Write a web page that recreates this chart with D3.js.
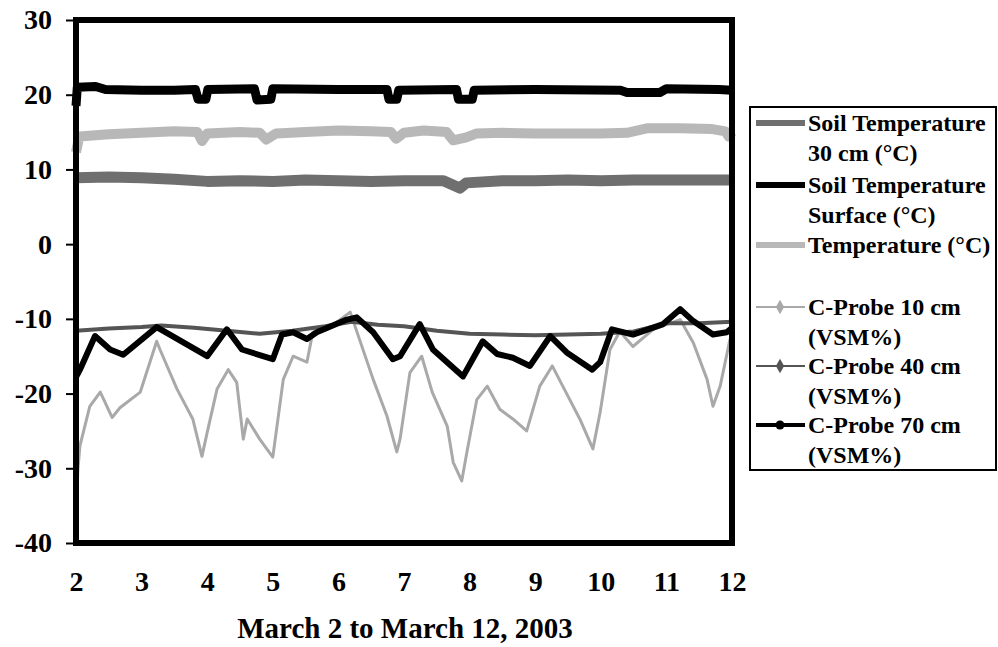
<!DOCTYPE html>
<html>
<head>
<meta charset="utf-8">
<script src="https://cdn.jsdelivr.net/npm/d3@7"></script>
<style>
  body { margin: 0; background: #fff; }
  text { font-family: "Liberation Serif", "Times New Roman", serif; font-weight: bold; fill: #000; }
</style>
</head>
<body>
<div id="chart"></div>
<script>
// day of March, value
const soil30 = [[2.0,8.9],[2.5,9.0],[3.0,8.9],[3.5,8.7],[4.0,8.4],[4.5,8.5],[5.0,8.4],[5.5,8.6],[6.0,8.5],[6.5,8.4],[7.0,8.5],[7.6,8.5],[7.85,7.5],[7.95,8.2],[8.5,8.5],[9.0,8.5],[9.5,8.6],[10.0,8.5],[10.5,8.6],[11.0,8.6],[11.5,8.6],[12.0,8.6]];
const soilSurface = [[2.0,18.5],[2.02,21.0],[2.3,21.1],[2.45,20.7],[3.0,20.6],[3.5,20.6],[3.82,20.7],[3.86,19.4],[3.98,19.4],[4.01,20.7],[4.72,20.8],[4.76,19.3],[4.97,19.4],[5.0,20.8],[6.0,20.7],[6.74,20.7],[6.77,19.4],[6.89,19.4],[6.92,20.6],[7.8,20.7],[7.83,19.4],[8.04,19.4],[8.07,20.6],[9.0,20.7],[10.3,20.6],[10.4,20.3],[10.9,20.3],[11.0,20.8],[11.8,20.7],[12.0,20.6]];
const airTemp = [[2.0,12.3],[2.05,14.4],[2.5,14.7],[3.0,14.9],[3.5,15.1],[3.85,15.0],[3.92,13.8],[4.0,14.8],[4.5,15.0],[4.8,14.9],[4.9,14.0],[5.05,14.8],[5.5,15.0],[6.0,15.2],[6.5,15.1],[6.8,15.0],[6.88,14.1],[7.0,14.9],[7.3,15.2],[7.65,15.0],[7.75,13.9],[7.95,14.3],[8.1,14.8],[8.5,14.9],[9.0,14.8],[9.5,14.8],[10.0,14.8],[10.4,14.9],[10.7,15.5],[11.2,15.5],[11.7,15.4],[11.9,15.1],[11.95,14.4],[12.0,15.0]];
const probe10 = [[2.0,-35.5],[2.03,-30.0],[2.06,-27.0],[2.21,-21.7],[2.37,-19.8],[2.55,-23.2],[2.67,-21.9],[2.98,-19.8],[3.23,-13.0],[3.28,-14.1],[3.54,-19.4],[3.78,-23.4],[3.92,-28.4],[4.0,-25.2],[4.15,-19.4],[4.32,-16.8],[4.45,-18.5],[4.55,-26.1],[4.61,-23.4],[4.8,-26.1],[5.0,-28.5],[5.16,-18.1],[5.31,-15.0],[5.52,-15.8],[5.61,-11.8],[5.83,-11.4],[6.18,-9.1],[6.53,-18.1],[6.74,-23.0],[6.89,-27.8],[6.94,-26.1],[7.09,-17.2],[7.27,-15.0],[7.43,-19.8],[7.66,-24.4],[7.75,-29.2],[7.88,-31.7],[7.96,-27.8],[8.11,-20.8],[8.27,-19.0],[8.46,-22.1],[8.66,-23.4],[8.87,-25.0],[9.07,-19.0],[9.26,-16.3],[9.42,-19.0],[9.68,-23.4],[9.88,-27.4],[9.99,-22.5],[10.14,-14.1],[10.29,-11.7],[10.49,-13.7],[10.8,-11.4],[11.21,-10.1],[11.41,-13.2],[11.62,-18.1],[11.71,-21.7],[11.82,-19.0],[11.97,-12.7]];
const probe40 = [[2.0,-11.6],[2.5,-11.3],[3.0,-11.1],[3.3,-10.9],[3.8,-11.2],[4.3,-11.6],[4.8,-12.0],[5.3,-11.6],[5.8,-11.0],[6.2,-10.4],[6.6,-10.8],[7.0,-11.0],[7.5,-11.6],[8.0,-12.0],[8.5,-12.1],[9.0,-12.2],[9.5,-12.1],[10.0,-12.0],[10.5,-11.7],[11.0,-10.6],[11.5,-10.6],[12.0,-10.4]];
const probe70 = [[2.0,-17.8],[2.06,-16.8],[2.29,-12.3],[2.52,-14.1],[2.72,-14.8],[3.23,-11.1],[3.43,-12.1],[4.0,-15.0],[4.3,-11.4],[4.53,-14.1],[5.0,-15.4],[5.14,-12.1],[5.31,-11.8],[5.52,-12.7],[5.67,-11.8],[6.13,-10.1],[6.28,-9.8],[6.53,-11.8],[6.83,-15.4],[6.94,-15.0],[7.24,-10.7],[7.44,-14.1],[7.9,-17.7],[8.2,-13.0],[8.42,-14.7],[8.66,-15.2],[8.92,-16.3],[9.23,-12.3],[9.48,-14.5],[9.87,-16.8],[9.99,-15.8],[10.17,-11.4],[10.49,-12.1],[10.95,-10.7],[11.21,-8.7],[11.41,-10.3],[11.71,-12.1],[11.92,-11.8],[12.0,-11.2]];

const xTicks = [2,3,4,5,6,7,8,9,10,11,12];
const yTicks = [-40,-30,-20,-10,0,10,20,30];

const series = [
  { name: ["Soil Temperature", "30 cm (°C)"], data: soil30, color: "#6f6f6f", width: 11, marker: null },
  { name: ["Soil Temperature", "Surface  (°C)"], data: soilSurface, color: "#000", width: 9, marker: null },
  { name: ["Temperature (°C)"], data: airTemp, color: "#b8b8b8", width: 10, marker: null },
  { name: ["C-Probe 10 cm", "(VSM%)"], data: probe10, color: "#a9a9a9", width: 3, marker: "diamond" },
  { name: ["C-Probe 40 cm", "(VSM%)"], data: probe40, color: "#555", width: 4, marker: "diamond" },
  { name: ["C-Probe 70 cm", "(VSM%)"], data: probe70, color: "#000", width: 6, marker: "circle" }
];

const width = 998, height = 647;
const plot = { left: 76, right: 732, top: 20, bottom: 543 };

const svg = d3.select("#chart").append("svg")
  .attr("width", width)
  .attr("height", height);

const x = d3.scaleLinear().domain([2, 12]).range([plot.left, plot.right]);
const y = d3.scaleLinear().domain([-40, 30]).range([plot.bottom, plot.top]);

const line = d3.line()
  .x(d => x(d[0]))
  .y(d => y(d[1]));

// lines, drawn so the black probe sits on top
const drawOrder = [0, 2, 1, 3, 4, 5];
drawOrder.forEach(i => {
  const s = series[i];
  svg.append("path")
    .datum(s.data)
    .attr("fill", "none")
    .attr("stroke", s.color)
    .attr("stroke-width", s.width)
    .attr("stroke-linejoin", "round")
    .attr("d", line);
});

// frame
svg.append("rect")
  .attr("x", plot.left)
  .attr("y", plot.top)
  .attr("width", plot.right - plot.left)
  .attr("height", plot.bottom - plot.top)
  .attr("fill", "none")
  .attr("stroke", "#000")
  .attr("stroke-width", 6);

// y axis
const yAxis = svg.append("g")
  .attr("transform", `translate(${plot.left},0)`)
  .call(d3.axisLeft(y).tickValues(yTicks).tickSize(10).tickPadding(14).tickFormat(d => String(d)));
yAxis.select(".domain").remove();
yAxis.selectAll("line").attr("stroke", "#000").attr("stroke-width", 2);
yAxis.selectAll("text")
  .style("font-size", "28px")
  .style("font-family", "Liberation Serif, serif")
  .style("font-weight", "bold");

// x axis
const xAxis = svg.append("g")
  .attr("transform", `translate(0,${plot.bottom})`)
  .call(d3.axisBottom(x).tickValues(xTicks).tickSize(0).tickPadding(28).tickFormat(d => String(d)));
xAxis.select(".domain").remove();
xAxis.selectAll("text")
  .style("font-size", "28px")
  .style("font-family", "Liberation Serif, serif")
  .style("font-weight", "bold");

svg.append("text")
  .attr("x", 405)
  .attr("y", 638)
  .attr("text-anchor", "middle")
  .style("font-size", "29px")
  .text("March 2 to March 12, 2003");

// legend
const legend = svg.append("g");
legend.append("rect")
  .attr("x", 750)
  .attr("y", 107)
  .attr("width", 246)
  .attr("height", 363)
  .attr("fill", "#fff")
  .attr("stroke", "#000")
  .attr("stroke-width", 2);

const rowY = [123, 185, 245, 307, 366, 425];
series.forEach((s, i) => {
  const g = legend.append("g").attr("transform", `translate(0,${rowY[i]})`);
  const lw = s.marker ? Math.max(2, s.width - 2) : Math.min(s.width, 6);
  g.append("line")
    .attr("x1", 756).attr("x2", 805)
    .attr("y1", 0).attr("y2", 0)
    .attr("stroke", s.color)
    .attr("stroke-width", lw);
  if (s.marker === "circle") {
    g.append("circle").attr("cx", 780).attr("cy", 0).attr("r", 4.5).attr("fill", s.color);
  } else if (s.marker === "diamond") {
    g.append("path")
      .attr("d", d3.symbol(d3.symbolDiamond, 60)())
      .attr("transform", "translate(780,0)")
      .attr("fill", s.color);
  }
  s.name.forEach((t, j) => {
    g.append("text")
      .attr("x", 808)
      .attr("y", j * 30)
      .attr("dy", "0.35em")
      .style("font-size", "24px")
      .text(t);
  });
});
</script>
</body>
</html>
